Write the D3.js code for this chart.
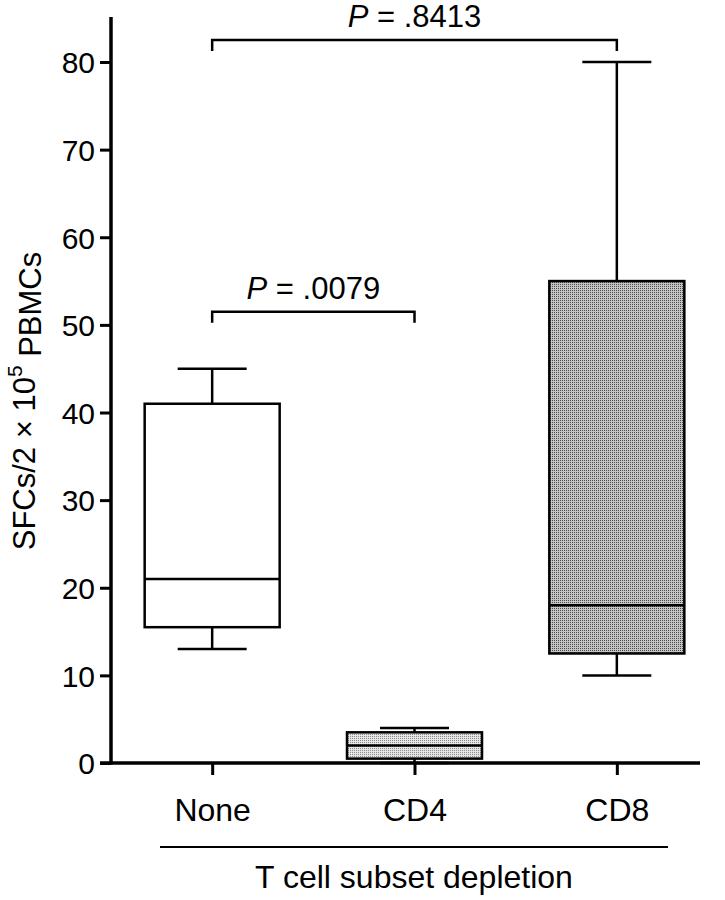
<!DOCTYPE html>
<html>
<head>
<meta charset="utf-8">
<script src="https://cdn.jsdelivr.net/npm/d3@7/dist/d3.min.js"></script>
<style>
  html, body { margin: 0; padding: 0; background: #fff; }
  svg { display: block; }
  text { font-family: "Liberation Sans", Arial, Helvetica, sans-serif; fill: #000; }
</style>
</head>
<body>
<svg id="chart" width="725" height="900"></svg>
<script>
// ---- data ----
const categories = ["None", "CD4", "CD8"];
const whiskerLow  = [13, 0, 10];
const q1          = [15.5, 0.5, 12.5];
const medians     = [21, 2, 18];
const q3          = [41, 3.5, 55];
const whiskerHigh = [45, 4, 80];
const yTicks = [0, 10, 20, 30, 40, 50, 60, 70, 80];
const comparisons = [
  { from: "None", to: "CD4", y: 51.5, label: ".0079" },
  { from: "None", to: "CD8", y: 82.5, label: ".8413" }
];
const xTitle = "T cell subset depletion";

// ---- layout ----
const svg = d3.select("#chart");
const x = d3.scalePoint().domain(categories).range([111, 718]).padding(0.5);
const y = d3.scaleLinear().domain([0, 80]).range([763, 62]);
const boxHalf = 67.5, capHalf = 34.5;

// patterns
const defs = svg.append("defs");
function pattern(id, dark, light) {
  const p = defs.append("pattern").attr("id", id).attr("width", 2).attr("height", 2)
    .attr("patternUnits", "userSpaceOnUse");
  p.append("rect").attr("width", 2).attr("height", 2).attr("fill", light);
  p.append("rect").attr("width", 1).attr("height", 1).attr("fill", dark);
}
pattern("pCD8", "#4a4a4a", "#c4c4c4");
pattern("pCD4", "#8a8a8a", "#e6e6e6");
const fills = { None: "#ffffff", CD4: "url(#pCD4)", CD8: "url(#pCD8)" };

// boxes
const data = categories.map((c, i) => ({
  c, lo: whiskerLow[i], q1: q1[i], med: medians[i], q3: q3[i], hi: whiskerHigh[i]
}));
const g = svg.append("g").attr("stroke", "#000").attr("stroke-width", 2.5).attr("fill", "none");
data.forEach(d => {
  const cx = x(d.c);
  g.append("line").attr("x1", cx).attr("x2", cx).attr("y1", y(d.q3)).attr("y2", y(d.hi));
  g.append("line").attr("x1", cx).attr("x2", cx).attr("y1", y(d.q1)).attr("y2", y(d.lo));
  g.append("line").attr("x1", cx - capHalf).attr("x2", cx + capHalf).attr("y1", y(d.hi)).attr("y2", y(d.hi));
  g.append("line").attr("x1", cx - capHalf).attr("x2", cx + capHalf).attr("y1", y(d.lo)).attr("y2", y(d.lo));
  g.append("rect").attr("x", cx - boxHalf).attr("width", boxHalf * 2)
    .attr("y", y(d.q3)).attr("height", y(d.q1) - y(d.q3))
    .attr("fill", fills[d.c]);
  g.append("line").attr("x1", cx - boxHalf).attr("x2", cx + boxHalf).attr("y1", y(d.med)).attr("y2", y(d.med));
});

// y axis
const yAxis = svg.append("g").attr("transform", "translate(111,0)")
  .call(d3.axisLeft(y).tickValues(yTicks).tickSize(11).tickSizeOuter(0).tickPadding(5));
yAxis.select(".domain").remove();
yAxis.selectAll(".tick line").attr("stroke", "#000").attr("stroke-width", 3);
yAxis.selectAll(".tick text").style("font-size", "30px").attr("dy", "0.36em");
svg.append("line").attr("x1", 111).attr("x2", 111).attr("y1", 17).attr("y2", y(0) + 1.5)
  .attr("stroke", "#000").attr("stroke-width", 3.5);

// x axis
const xAxis = svg.append("g").attr("transform", `translate(0,${y(0)})`)
  .call(d3.axisBottom(x).tickSize(12).tickSizeOuter(0).tickPadding(23));
xAxis.select(".domain").remove();
xAxis.selectAll(".tick line").attr("stroke", "#000").attr("stroke-width", 3);
xAxis.selectAll(".tick text").style("font-size", "32px");
svg.append("line").attr("x1", 100).attr("x2", 700).attr("y1", y(0)).attr("y2", y(0))
  .attr("stroke", "#000").attr("stroke-width", 3.5);

// group line and title
svg.append("line").attr("x1", 160).attr("x2", 668).attr("y1", 847).attr("y2", 847)
  .attr("stroke", "#000").attr("stroke-width", 2);
svg.append("text").attr("x", 414).attr("y", 888).attr("text-anchor", "middle")
  .style("font-size", "32px").text(xTitle);

// y title
const yt = svg.append("text").attr("transform", "translate(35,401) rotate(-90)")
  .attr("text-anchor", "middle").style("font-size", "31px");
yt.append("tspan").text("SFCs/2 × 10");
yt.append("tspan").attr("dy", "-0.6em").style("font-size", "21px").text("5");
yt.append("tspan").attr("dy", "0.6em").text(" PBMCs");

// comparison brackets
comparisons.forEach(cm => {
  const x1 = x(cm.from), x2 = x(cm.to), yy = y(cm.y);
  svg.append("path")
    .attr("d", `M${x1},${yy + 11}V${yy}H${x2}V${yy + 11}`)
    .attr("fill", "none").attr("stroke", "#000").attr("stroke-width", 2.5);
  const t = svg.append("text").attr("x", (x1 + x2) / 2).attr("y", yy - 13)
    .attr("text-anchor", "middle").style("font-size", "31px");
  t.append("tspan").style("font-style", "italic").text("P");
  t.append("tspan").text(" = " + cm.label);
});
</script>
</body>
</html>
